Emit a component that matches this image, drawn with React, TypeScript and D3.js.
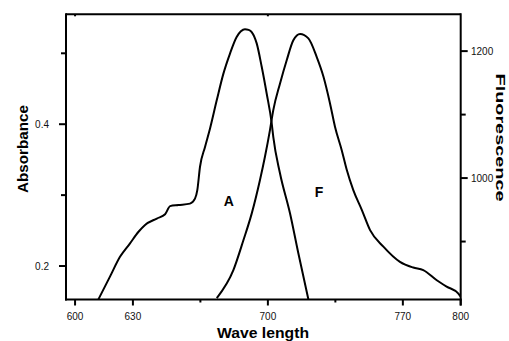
import React from "react";
import * as d3 from "d3";

// Absorbance spectrum (A), left axis
const absWave = [612.1, 618.1, 623.3, 628.5, 632.8, 636.3, 642.4, 646.7, 649.3, 653.6, 659.6, 662.2, 663.4, 664.8, 667.4, 670.0, 673.5, 676.9, 680.4, 683.8, 686.0, 688.1, 690.0, 691.6, 694.2, 696.8, 699.4, 702.0, 702.8, 706.3, 711.5, 715.8, 721.0];
const absValue = [0.153, 0.185, 0.213, 0.232, 0.248, 0.258, 0.267, 0.273, 0.2845, 0.286, 0.288, 0.295, 0.307, 0.340, 0.368, 0.394, 0.434, 0.471, 0.500, 0.523, 0.531, 0.534, 0.533, 0.530, 0.514, 0.481, 0.443, 0.401, 0.382, 0.3305, 0.274, 0.218, 0.153];

// Fluorescence spectrum (F), right axis
const fluWave = [673.5, 682.1, 687.3, 691.6, 695.9, 698.5, 701.1, 702.8, 706.3, 709.8, 713.2, 716.7, 721.0, 725.3, 728.8, 732.2, 734.8, 738.3, 740.9, 744.3, 748.7, 753.0, 759.9, 768.5, 775.4, 780.6, 787.6, 792.7, 798.8, 800.0];
const fluValue = [811, 855, 902, 944, 997, 1034, 1076, 1107, 1149, 1186, 1217, 1227, 1220, 1191, 1160, 1118, 1081, 1044, 1013, 981, 950, 918, 892, 868, 859, 855, 839, 829, 818, 813];

const xMajorTicks = [600, 630, 700, 770, 800];
const xMinorTicks = [665, 735];
const xTopTicks = [600, 700];
const absMajorTicks = [0.2, 0.4];
const absMinorTicks = [0.3, 0.5];
const fluMajorTicks = [1000, 1200];
const fluMinorTicks = [900, 1100];

const xDomain = [595.3, 800];
const absDomain = [0.1528, 0.555];
const fluDomain = [808.7, 1258];

export default function App() {
  const left = 66, right = 460.7, top = 14.3, bottom = 299.5;
  const x = d3.scaleLinear().domain(xDomain).range([left, right]);
  const yA = d3.scaleLinear().domain(absDomain).range([bottom, top]);
  const yF = d3.scaleLinear().domain(fluDomain).range([bottom, top]);

  const absPts: [number, number][] = absWave.map((w, i) => [w, absValue[i]]);
  const fluPts: [number, number][] = fluWave.map((w, i) => [w, fluValue[i]]);

  const la = d3.line<[number, number]>().x(d => x(d[0])).y(d => yA(d[1])).curve(d3.curveMonotoneX);
  const lf = d3.line<[number, number]>().x(d => x(d[0])).y(d => yF(d[1])).curve(d3.curveMonotoneX);

  const fmtA = d3.format(".1f");
  const tickFont = "Arial, 'Liberation Sans', sans-serif";
  const tickColor = "#111";

  return (
    <svg width={509} height={341} style={{ position: "absolute", left: 0, top: 0, background: "#fff" }}
      fontFamily={tickFont}>
      <defs>
        <clipPath id="plot">
          <rect x={left} y={top} width={right - left} height={bottom - top} />
        </clipPath>
      </defs>
      <g clipPath="url(#plot)" fill="none" stroke="#000" strokeWidth={2} strokeLinejoin="round">
        <path d={la(absPts) || ""} />
        <path d={lf(fluPts) || ""} />
      </g>

      {/* frame */}
      <g stroke="#000" strokeWidth={2} fill="none">
        <line x1={left} y1={top} x2={right} y2={top} />
        <line x1={left} y1={top - 1} x2={left} y2={bottom + 1} />
        <line x1={right} y1={top - 1} x2={right} y2={bottom + 6} />
        <line x1={left - 1} y1={bottom} x2={right + 1} y2={bottom} />
      </g>

      {/* bottom axis */}
      <g stroke="#000" strokeWidth={2}>
        {xMajorTicks.map(t => <line key={"xm" + t} x1={x(t)} x2={x(t)} y1={bottom} y2={bottom + 6} />)}
        {xMinorTicks.map(t => <line key={"xn" + t} x1={x(t)} x2={x(t)} y1={bottom} y2={bottom + 3} />)}
        {xTopTicks.map(t => <line key={"xt" + t} x1={x(t)} x2={x(t)} y1={top} y2={top + 2} />)}
      </g>
      <g fontSize={10} fill={tickColor} textAnchor="middle">
        {xMajorTicks.map(t => <text key={"xl" + t} x={x(t)} y={319.5}>{t}</text>)}
      </g>

      {/* left axis */}
      <g stroke="#000" strokeWidth={2}>
        {absMajorTicks.map(t => <line key={"am" + t} x1={left - 7} x2={left} y1={yA(t)} y2={yA(t)} />)}
        {absMinorTicks.map(t => <line key={"an" + t} x1={left - 5} x2={left} y1={yA(t)} y2={yA(t)} />)}
      </g>
      <g fontSize={10} fill={tickColor} textAnchor="end">
        {absMajorTicks.map(t => <text key={"al" + t} x={49} y={yA(t) + 3.6}>{fmtA(t)}</text>)}
      </g>

      {/* right axis */}
      <g stroke="#000" strokeWidth={2}>
        {fluMajorTicks.map(t => <line key={"fm" + t} x1={right} x2={right + 7} y1={yF(t)} y2={yF(t)} />)}
        {fluMinorTicks.map(t => <line key={"fn" + t} x1={right} x2={right + 5} y1={yF(t)} y2={yF(t)} />)}
      </g>
      <g fontSize={10} fill={tickColor} textAnchor="start">
        {fluMajorTicks.map(t => <text key={"fl" + t} x={471} y={yF(t) + 3.6}>{t}</text>)}
      </g>

      {/* titles */}
      <g fontWeight="bold" fill="#000" textAnchor="middle">
        <text x={263} y={338} fontSize={15} textLength={92} lengthAdjust="spacingAndGlyphs">Wave length</text>
        <text transform="translate(28,149) rotate(-90)" fontSize={15} textLength={88} lengthAdjust="spacingAndGlyphs">Absorbance</text>
        <text transform="translate(496,137.5) rotate(90)" fontSize={13.5} textLength={128} lengthAdjust="spacingAndGlyphs">Fluorescence</text>
      </g>

      {/* curve labels */}
      <g fontWeight="bold" fontSize={14} fill="#000" textAnchor="middle">
        <text x={228.7} y={206}>A</text>
        <text x={319} y={197}>F</text>
      </g>
    </svg>
  );
}
